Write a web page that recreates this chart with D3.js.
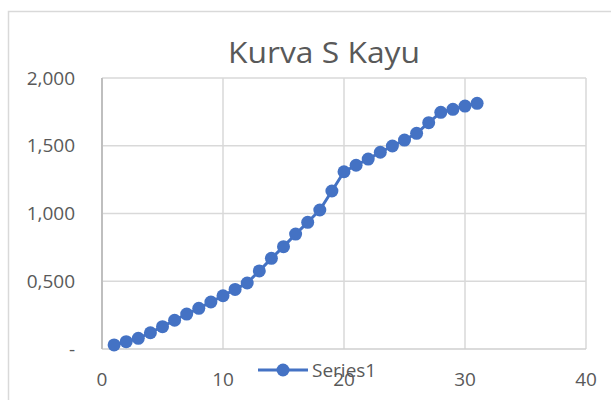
<!DOCTYPE html>
<html>
<head>
<meta charset="utf-8">
<script src="https://cdn.jsdelivr.net/npm/d3@7"></script>
<style>
  html, body { margin: 0; padding: 0; background: #fff; }
  svg { display: block; font-family: "Open Sans", sans-serif; }
</style>
</head>
<body>
<svg id="chart" width="611" height="400"></svg>
<script>
// data
const days = [1,2,3,4,5,6,7,8,9,10,11,12,13,14,15,16,17,18,19,20,21,22,23,24,25,26,27,28,29,30,31];
const progress = [0.030,0.054,0.079,0.120,0.165,0.212,0.258,0.300,0.347,0.393,0.440,0.487,0.576,0.669,0.755,0.848,
                  0.935,1.026,1.166,1.308,1.356,1.402,1.452,1.498,1.542,1.592,1.670,1.747,1.769,1.793,1.813];
const xTicks = [0,10,20,30,40];
const yTicks = [0,0.5,1,1.5,2];
const title = "Kurva S Kayu";
const seriesName = "Series1";

const svg = d3.select("#chart");
const plot = {left: 102, right: 586, top: 78, bottom: 349};
const blue = "#4472C4", grey = "#595959";

// chart frame (extends past the window on the right/bottom)
svg.append("rect")
  .attr("x", 8.5).attr("y", 11.5)
  .attr("width", 640).attr("height", 420)
  .attr("fill", "#fff").attr("stroke", "#d9d9d9").attr("stroke-width", 1.5);

const x = d3.scaleLinear().domain([0, 40]).range([plot.left, plot.right]);
const y = d3.scaleLinear().domain([0, 2]).range([plot.bottom, plot.top]);

// gridlines
const grid = svg.append("g");
grid.selectAll(".hg").data(yTicks.slice(1)).join("line")
  .attr("x1", plot.left).attr("x2", plot.right)
  .attr("y1", d => y(d)).attr("y2", d => y(d))
  .attr("stroke", "#d9d9d9").attr("stroke-width", 1.5);
grid.selectAll(".vg").data(xTicks.slice(1)).join("line")
  .attr("x1", d => x(d)).attr("x2", d => x(d))
  .attr("y1", plot.top).attr("y2", plot.bottom)
  .attr("stroke", "#d9d9d9").attr("stroke-width", 1.5);

// axis lines
svg.append("line")
  .attr("x1", plot.left).attr("x2", plot.right)
  .attr("y1", y(0)).attr("y2", y(0))
  .attr("stroke", "#cfcfcf").attr("stroke-width", 1.5);
svg.append("line")
  .attr("x1", x(0)).attr("x2", x(0))
  .attr("y1", plot.top).attr("y2", plot.bottom)
  .attr("stroke", "#bfbfbf").attr("stroke-width", 2);

// tick labels, comma as decimal separator, dash for zero
const fmt = v => v === 0 ? "-" : d3.format(".3f")(v).replace(".", ",");
svg.append("g").selectAll("text").data(yTicks).join("text")
  .attr("x", 75).attr("y", d => y(d)).attr("dy", "0.35em")
  .attr("text-anchor", "end")
  .attr("font-size", 19).attr("fill", grey)
  .text(fmt);
svg.append("g").selectAll("text").data(xTicks).join("text")
  .attr("x", d => x(d)).attr("y", 386)
  .attr("text-anchor", "middle")
  .attr("font-size", 19).attr("fill", grey)
  .text(d => d);

// title
svg.append("text")
  .attr("x", 324).attr("y", 63)
  .attr("text-anchor", "middle")
  .attr("font-size", 29).attr("fill", grey)
  .attr("textLength", 192).attr("lengthAdjust", "spacingAndGlyphs")
  .text(title);

// series
const pts = days.map((d, i) => [d, progress[i]]);
svg.append("path")
  .datum(pts)
  .attr("fill", "none").attr("stroke", blue).attr("stroke-width", 3)
  .attr("stroke-linejoin", "round")
  .attr("d", d3.line().x(d => x(d[0])).y(d => y(d[1])));
svg.append("g").selectAll("circle").data(pts).join("circle")
  .attr("cx", d => x(d[0])).attr("cy", d => y(d[1]))
  .attr("r", 6.5).attr("fill", blue);

// legend (sits over the axis labels like the original)
const lg = svg.append("g");
lg.append("line")
  .attr("x1", 258).attr("x2", 308).attr("y1", 370).attr("y2", 370)
  .attr("stroke", blue).attr("stroke-width", 3);
lg.append("circle").attr("cx", 283).attr("cy", 370).attr("r", 6.5).attr("fill", blue);
lg.append("text")
  .attr("x", 312).attr("y", 370).attr("dy", "0.35em")
  .attr("font-size", 19).attr("fill", grey)
  .text(seriesName);
</script>
</body>
</html>
